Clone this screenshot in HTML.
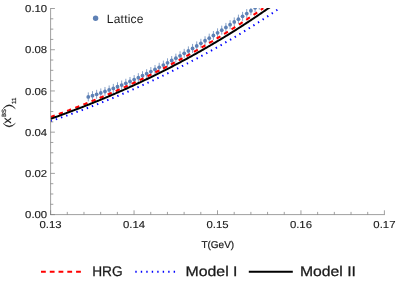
<!DOCTYPE html>
<html><head><meta charset="utf-8">
<style>
html,body{margin:0;padding:0;background:#fff;}
body{width:397px;height:290px;overflow:hidden;}
svg{display:block;will-change:transform;}
text{font-family:"Liberation Sans",sans-serif;fill:#1a1a1a;text-rendering:geometricPrecision;}
</style></head><body>
<svg width="397" height="290" viewBox="0 0 397 290">
<rect width="397" height="290" fill="#fff"/>
<defs><clipPath id="cp"><rect x="50.6" y="8.0" width="333.79999999999995" height="206.6"/></clipPath></defs>
<g clip-path="url(#cp)" fill="none">
  <g stroke="#5E81B5" stroke-width="1" opacity="0.75"><line x1="88.30" y1="92.38" x2="88.30" y2="101.38"/><line x1="92.47" y1="91.13" x2="92.47" y2="100.13"/><line x1="96.64" y1="89.82" x2="96.64" y2="98.82"/><line x1="100.81" y1="88.43" x2="100.81" y2="97.43"/><line x1="104.98" y1="86.98" x2="104.98" y2="95.98"/><line x1="109.15" y1="85.46" x2="109.15" y2="94.46"/><line x1="113.32" y1="83.88" x2="113.32" y2="92.88"/><line x1="117.49" y1="82.24" x2="117.49" y2="91.24"/><line x1="121.66" y1="80.54" x2="121.66" y2="89.54"/><line x1="125.83" y1="78.78" x2="125.83" y2="87.78"/><line x1="130.00" y1="76.97" x2="130.00" y2="85.97"/><line x1="134.17" y1="75.10" x2="134.17" y2="84.10"/><line x1="138.34" y1="73.17" x2="138.34" y2="82.17"/><line x1="142.51" y1="71.20" x2="142.51" y2="80.20"/><line x1="146.68" y1="69.17" x2="146.68" y2="78.17"/><line x1="150.85" y1="67.09" x2="150.85" y2="76.09"/><line x1="155.02" y1="64.97" x2="155.02" y2="73.97"/><line x1="159.19" y1="62.79" x2="159.19" y2="71.79"/><line x1="163.36" y1="60.58" x2="163.36" y2="69.58"/><line x1="167.53" y1="58.32" x2="167.53" y2="67.32"/><line x1="171.70" y1="56.01" x2="171.70" y2="65.01"/><line x1="175.87" y1="53.67" x2="175.87" y2="62.67"/><line x1="180.04" y1="51.29" x2="180.04" y2="60.29"/><line x1="184.21" y1="48.87" x2="184.21" y2="57.87"/><line x1="188.38" y1="46.41" x2="188.38" y2="55.41"/><line x1="192.55" y1="43.92" x2="192.55" y2="52.92"/><line x1="196.72" y1="41.40" x2="196.72" y2="50.40"/><line x1="200.89" y1="38.84" x2="200.89" y2="47.84"/><line x1="205.06" y1="36.26" x2="205.06" y2="45.26"/><line x1="209.23" y1="33.64" x2="209.23" y2="42.64"/><line x1="213.40" y1="31.00" x2="213.40" y2="40.00"/><line x1="217.57" y1="28.33" x2="217.57" y2="37.33"/><line x1="221.74" y1="25.64" x2="221.74" y2="34.64"/><line x1="225.91" y1="22.92" x2="225.91" y2="31.92"/><line x1="230.08" y1="20.19" x2="230.08" y2="29.19"/><line x1="234.25" y1="17.43" x2="234.25" y2="26.43"/><line x1="238.42" y1="14.65" x2="238.42" y2="23.65"/><line x1="242.59" y1="11.86" x2="242.59" y2="20.86"/><line x1="246.76" y1="9.06" x2="246.76" y2="18.06"/><line x1="250.93" y1="6.23" x2="250.93" y2="15.23"/><line x1="255.10" y1="3.40" x2="255.10" y2="12.40"/><line x1="259.27" y1="0.55" x2="259.27" y2="9.55"/><line x1="263.44" y1="-2.30" x2="263.44" y2="6.70"/></g>
  <g fill="#5E81B5" stroke="none"><circle cx="88.30" cy="96.88" r="1.9"/><circle cx="92.47" cy="95.63" r="1.9"/><circle cx="96.64" cy="94.32" r="1.9"/><circle cx="100.81" cy="92.93" r="1.9"/><circle cx="104.98" cy="91.48" r="1.9"/><circle cx="109.15" cy="89.96" r="1.9"/><circle cx="113.32" cy="88.38" r="1.9"/><circle cx="117.49" cy="86.74" r="1.9"/><circle cx="121.66" cy="85.04" r="1.9"/><circle cx="125.83" cy="83.28" r="1.9"/><circle cx="130.00" cy="81.47" r="1.9"/><circle cx="134.17" cy="79.60" r="1.9"/><circle cx="138.34" cy="77.67" r="1.9"/><circle cx="142.51" cy="75.70" r="1.9"/><circle cx="146.68" cy="73.67" r="1.9"/><circle cx="150.85" cy="71.59" r="1.9"/><circle cx="155.02" cy="69.47" r="1.9"/><circle cx="159.19" cy="67.29" r="1.9"/><circle cx="163.36" cy="65.08" r="1.9"/><circle cx="167.53" cy="62.82" r="1.9"/><circle cx="171.70" cy="60.51" r="1.9"/><circle cx="175.87" cy="58.17" r="1.9"/><circle cx="180.04" cy="55.79" r="1.9"/><circle cx="184.21" cy="53.37" r="1.9"/><circle cx="188.38" cy="50.91" r="1.9"/><circle cx="192.55" cy="48.42" r="1.9"/><circle cx="196.72" cy="45.90" r="1.9"/><circle cx="200.89" cy="43.34" r="1.9"/><circle cx="205.06" cy="40.76" r="1.9"/><circle cx="209.23" cy="38.14" r="1.9"/><circle cx="213.40" cy="35.50" r="1.9"/><circle cx="217.57" cy="32.83" r="1.9"/><circle cx="221.74" cy="30.14" r="1.9"/><circle cx="225.91" cy="27.42" r="1.9"/><circle cx="230.08" cy="24.69" r="1.9"/><circle cx="234.25" cy="21.93" r="1.9"/><circle cx="238.42" cy="19.15" r="1.9"/><circle cx="242.59" cy="16.36" r="1.9"/><circle cx="246.76" cy="13.56" r="1.9"/><circle cx="250.93" cy="10.73" r="1.9"/><circle cx="255.10" cy="7.90" r="1.9"/><circle cx="259.27" cy="5.05" r="1.9"/><circle cx="263.44" cy="2.20" r="1.9"/></g>
  <path d="M50.60,116.98 L51.60,116.63 L52.60,116.27 L53.60,115.91 L54.60,115.55 L55.60,115.18 L56.60,114.82 L57.60,114.46 L58.60,114.09 L59.60,113.72 L60.60,113.35 L61.60,112.98 L62.60,112.61 L63.60,112.24 L64.60,111.87 L65.60,111.49 L66.60,111.12 L67.60,110.74 L68.60,110.36 L69.60,109.98 L70.60,109.60 L71.60,109.22 L72.60,108.84 L73.60,108.45 L74.60,108.07 L75.60,107.68 L76.60,107.29 L77.60,106.90 L78.60,106.51 L79.60,106.12 L80.60,105.73 L81.60,105.33 L82.60,104.94 L83.60,104.54 L84.60,104.14 L85.60,103.74 L86.60,103.34 L87.60,102.94 L88.60,102.54 L89.60,102.13 L90.60,101.72 L91.60,101.32 L92.60,100.91 L93.60,100.50 L94.60,100.09 L95.60,99.67 L96.60,99.26 L97.60,98.84 L98.60,98.43 L99.60,98.01 L100.60,97.59 L101.60,97.17 L102.60,96.74 L103.60,96.32 L104.60,95.89 L105.60,95.47 L106.60,95.04 L107.60,94.61 L108.60,94.18 L109.60,93.75 L110.60,93.31 L111.60,92.88 L112.60,92.44 L113.60,92.01 L114.60,91.57 L115.60,91.13 L116.60,90.68 L117.60,90.24 L118.60,89.80 L119.60,89.35 L120.60,88.90 L121.60,88.45 L122.60,88.00 L123.60,87.55 L124.60,87.10 L125.60,86.64 L126.60,86.19 L127.60,85.73 L128.60,85.27 L129.60,84.81 L130.60,84.35 L131.60,83.88 L132.60,83.42 L133.60,82.95 L134.60,82.48 L135.60,82.01 L136.60,81.54 L137.60,81.07 L138.60,80.60 L139.60,80.12 L140.60,79.64 L141.60,79.16 L142.60,78.68 L143.60,78.20 L144.60,77.72 L145.60,77.23 L146.60,76.75 L147.60,76.26 L148.60,75.77 L149.60,75.28 L150.60,74.79 L151.60,74.29 L152.60,73.80 L153.60,73.30 L154.60,72.80 L155.60,72.30 L156.60,71.80 L157.60,71.30 L158.60,70.79 L159.60,70.28 L160.60,69.77 L161.60,69.26 L162.60,68.75 L163.60,68.24 L164.60,67.73 L165.60,67.21 L166.60,66.69 L167.60,66.17 L168.60,65.65 L169.60,65.13 L170.60,64.60 L171.60,64.08 L172.60,63.55 L173.60,63.02 L174.60,62.49 L175.60,61.95 L176.60,61.42 L177.60,60.88 L178.60,60.35 L179.60,59.81 L180.60,59.27 L181.60,58.72 L182.60,58.18 L183.60,57.63 L184.60,57.08 L185.60,56.53 L186.60,55.98 L187.60,55.43 L188.60,54.87 L189.60,54.32 L190.60,53.76 L191.60,53.20 L192.60,52.64 L193.60,52.07 L194.60,51.51 L195.60,50.94 L196.60,50.37 L197.60,49.80 L198.60,49.23 L199.60,48.65 L200.60,48.08 L201.60,47.50 L202.60,46.92 L203.60,46.34 L204.60,45.76 L205.60,45.17 L206.60,44.58 L207.60,44.00 L208.60,43.41 L209.60,42.81 L210.60,42.22 L211.60,41.62 L212.60,41.03 L213.60,40.43 L214.60,39.82 L215.60,39.22 L216.60,38.62 L217.60,38.01 L218.60,37.40 L219.60,36.79 L220.60,36.18 L221.60,35.56 L222.60,34.95 L223.60,34.33 L224.60,33.71 L225.60,33.09 L226.60,32.46 L227.60,31.84 L228.60,31.21 L229.60,30.58 L230.60,29.95 L231.60,29.31 L232.60,28.68 L233.60,28.04 L234.60,27.40 L235.60,26.76 L236.60,26.12 L237.60,25.47 L238.60,24.82 L239.60,24.17 L240.60,23.52 L241.60,22.87 L242.60,22.22 L243.60,21.56 L244.60,20.90 L245.60,20.24 L246.60,19.57 L247.60,18.91 L248.60,18.24 L249.60,17.57 L250.60,16.90 L251.60,16.23 L252.60,15.55 L253.60,14.88 L254.60,14.20 L255.60,13.52 L256.60,12.83 L257.60,12.15 L258.60,11.46 L259.60,10.77 L260.60,10.08 L261.60,9.38 L262.60,8.69 L263.30,8.20" stroke="#ff0000" stroke-width="2.1" stroke-dasharray="4.4 4.36"/>
  <path d="M50.60,121.15 L51.60,120.82 L52.60,120.48 L53.60,120.14 L54.60,119.80 L55.60,119.46 L56.60,119.12 L57.60,118.77 L58.60,118.43 L59.60,118.09 L60.60,117.74 L61.60,117.39 L62.60,117.04 L63.60,116.69 L64.60,116.34 L65.60,115.99 L66.60,115.64 L67.60,115.28 L68.60,114.93 L69.60,114.57 L70.60,114.21 L71.60,113.86 L72.60,113.50 L73.60,113.13 L74.60,112.77 L75.60,112.41 L76.60,112.04 L77.60,111.68 L78.60,111.31 L79.60,110.94 L80.60,110.57 L81.60,110.20 L82.60,109.83 L83.60,109.46 L84.60,109.08 L85.60,108.71 L86.60,108.33 L87.60,107.95 L88.60,107.57 L89.60,107.19 L90.60,106.81 L91.60,106.43 L92.60,106.04 L93.60,105.66 L94.60,105.27 L95.60,104.88 L96.60,104.49 L97.60,104.10 L98.60,103.71 L99.60,103.32 L100.60,102.92 L101.60,102.53 L102.60,102.13 L103.60,101.73 L104.60,101.33 L105.60,100.93 L106.60,100.53 L107.60,100.13 L108.60,99.72 L109.60,99.32 L110.60,98.91 L111.60,98.50 L112.60,98.09 L113.60,97.68 L114.60,97.27 L115.60,96.85 L116.60,96.44 L117.60,96.02 L118.60,95.60 L119.60,95.18 L120.60,94.76 L121.60,94.34 L122.60,93.92 L123.60,93.49 L124.60,93.06 L125.60,92.64 L126.60,92.21 L127.60,91.78 L128.60,91.34 L129.60,90.91 L130.60,90.47 L131.60,90.04 L132.60,89.60 L133.60,89.16 L134.60,88.72 L135.60,88.28 L136.60,87.84 L137.60,87.39 L138.60,86.94 L139.60,86.50 L140.60,86.05 L141.60,85.60 L142.60,85.15 L143.60,84.69 L144.60,84.24 L145.60,83.78 L146.60,83.32 L147.60,82.86 L148.60,82.40 L149.60,81.94 L150.60,81.48 L151.60,81.01 L152.60,80.55 L153.60,80.08 L154.60,79.61 L155.60,79.14 L156.60,78.66 L157.60,78.19 L158.60,77.71 L159.60,77.24 L160.60,76.76 L161.60,76.28 L162.60,75.80 L163.60,75.31 L164.60,74.83 L165.60,74.34 L166.60,73.85 L167.60,73.37 L168.60,72.87 L169.60,72.38 L170.60,71.89 L171.60,71.39 L172.60,70.89 L173.60,70.40 L174.60,69.90 L175.60,69.39 L176.60,68.89 L177.60,68.38 L178.60,67.88 L179.60,67.37 L180.60,66.86 L181.60,66.36 L182.60,65.85 L183.60,65.34 L184.60,64.83 L185.60,64.32 L186.60,63.81 L187.60,63.29 L188.60,62.78 L189.60,62.26 L190.60,61.74 L191.60,61.22 L192.60,60.69 L193.60,60.17 L194.60,59.64 L195.60,59.12 L196.60,58.59 L197.60,58.05 L198.60,57.52 L199.60,56.99 L200.60,56.45 L201.60,55.91 L202.60,55.37 L203.60,54.83 L204.60,54.29 L205.60,53.74 L206.60,53.19 L207.60,52.64 L208.60,52.09 L209.60,51.54 L210.60,50.99 L211.60,50.43 L212.60,49.87 L213.60,49.32 L214.60,48.75 L215.60,48.19 L216.60,47.63 L217.60,47.06 L218.60,46.49 L219.60,45.92 L220.60,45.35 L221.60,44.78 L222.60,44.20 L223.60,43.62 L224.60,43.05 L225.60,42.46 L226.60,41.88 L227.60,41.30 L228.60,40.71 L229.60,40.12 L230.60,39.53 L231.60,38.94 L232.60,38.35 L233.60,37.75 L234.60,37.15 L235.60,36.55 L236.60,35.95 L237.60,35.35 L238.60,34.74 L239.60,34.14 L240.60,33.53 L241.60,32.92 L242.60,32.30 L243.60,31.69 L244.60,31.07 L245.60,30.45 L246.60,29.83 L247.60,29.21 L248.60,28.58 L249.60,27.96 L250.60,27.33 L251.60,26.70 L252.60,26.07 L253.60,25.43 L254.60,24.80 L255.60,24.16 L256.60,23.52 L257.60,22.87 L258.60,22.23 L259.60,21.58 L260.60,20.94 L261.60,20.28 L262.60,19.63 L263.60,18.98 L264.60,18.32 L265.60,17.66 L266.60,17.00 L267.60,16.34 L268.60,15.67 L269.60,15.01 L270.60,14.34 L271.60,13.67 L272.60,12.99 L273.60,12.32 L274.60,11.64 L275.60,10.96 L276.60,10.28 L277.60,9.60 L278.60,8.91 L279.50,8.29" stroke="#0000ff" stroke-width="2" stroke-dasharray="1.4 4.08"/>
  <path d="M50.60,118.81 L51.60,118.46 L52.60,118.11 L53.60,117.75 L54.60,117.40 L55.60,117.04 L56.60,116.69 L57.60,116.33 L58.60,115.97 L59.60,115.61 L60.60,115.24 L61.60,114.88 L62.60,114.52 L63.60,114.15 L64.60,113.78 L65.60,113.41 L66.60,113.05 L67.60,112.67 L68.60,112.30 L69.60,111.93 L70.60,111.56 L71.60,111.18 L72.60,110.80 L73.60,110.42 L74.60,110.05 L75.60,109.67 L76.60,109.28 L77.60,108.90 L78.60,108.52 L79.60,108.13 L80.60,107.74 L81.60,107.36 L82.60,106.97 L83.60,106.58 L84.60,106.18 L85.60,105.79 L86.60,105.40 L87.60,105.00 L88.60,104.60 L89.60,104.20 L90.60,103.80 L91.60,103.40 L92.60,103.00 L93.60,102.60 L94.60,102.19 L95.60,101.79 L96.60,101.38 L97.60,100.97 L98.60,100.56 L99.60,100.15 L100.60,99.74 L101.60,99.32 L102.60,98.91 L103.60,98.49 L104.60,98.07 L105.60,97.65 L106.60,97.23 L107.60,96.81 L108.60,96.38 L109.60,95.96 L110.60,95.53 L111.60,95.11 L112.60,94.68 L113.60,94.25 L114.60,93.81 L115.60,93.38 L116.60,92.95 L117.60,92.51 L118.60,92.07 L119.60,91.63 L120.60,91.19 L121.60,90.75 L122.60,90.31 L123.60,89.86 L124.60,89.42 L125.60,88.97 L126.60,88.52 L127.60,88.07 L128.60,87.62 L129.60,87.16 L130.60,86.71 L131.60,86.25 L132.60,85.80 L133.60,85.34 L134.60,84.88 L135.60,84.41 L136.60,83.95 L137.60,83.48 L138.60,83.02 L139.60,82.55 L140.60,82.08 L141.60,81.61 L142.60,81.14 L143.60,80.66 L144.60,80.19 L145.60,79.71 L146.60,79.23 L147.60,78.75 L148.60,78.27 L149.60,77.79 L150.60,77.30 L151.60,76.82 L152.60,76.33 L153.60,75.84 L154.60,75.35 L155.60,74.86 L156.60,74.36 L157.60,73.87 L158.60,73.37 L159.60,72.87 L160.60,72.37 L161.60,71.87 L162.60,71.37 L163.60,70.86 L164.60,70.35 L165.60,69.85 L166.60,69.34 L167.60,68.82 L168.60,68.31 L169.60,67.80 L170.60,67.28 L171.60,66.76 L172.60,66.24 L173.60,65.72 L174.60,65.20 L175.60,64.67 L176.60,64.15 L177.60,63.62 L178.60,63.09 L179.60,62.56 L180.60,62.03 L181.60,61.49 L182.60,60.96 L183.60,60.42 L184.60,59.88 L185.60,59.34 L186.60,58.80 L187.60,58.25 L188.60,57.70 L189.60,57.16 L190.60,56.61 L191.60,56.06 L192.60,55.50 L193.60,54.95 L194.60,54.39 L195.60,53.83 L196.60,53.27 L197.60,52.71 L198.60,52.15 L199.60,51.58 L200.60,51.02 L201.60,50.45 L202.60,49.88 L203.60,49.30 L204.60,48.73 L205.60,48.15 L206.60,47.58 L207.60,47.00 L208.60,46.42 L209.60,45.83 L210.60,45.25 L211.60,44.66 L212.60,44.07 L213.60,43.48 L214.60,42.89 L215.60,42.30 L216.60,41.70 L217.60,41.10 L218.60,40.51 L219.60,39.90 L220.60,39.30 L221.60,38.70 L222.60,38.09 L223.60,37.48 L224.60,36.87 L225.60,36.26 L226.60,35.64 L227.60,35.03 L228.60,34.41 L229.60,33.79 L230.60,33.17 L231.60,32.54 L232.60,31.92 L233.60,31.29 L234.60,30.66 L235.60,30.03 L236.60,29.40 L237.60,28.76 L238.60,28.12 L239.60,27.48 L240.60,26.84 L241.60,26.20 L242.60,25.56 L243.60,24.91 L244.60,24.26 L245.60,23.61 L246.60,22.96 L247.60,22.30 L248.60,21.64 L249.60,20.99 L250.60,20.32 L251.60,19.66 L252.60,19.00 L253.60,18.33 L254.60,17.66 L255.60,16.99 L256.60,16.32 L257.60,15.64 L258.60,14.96 L259.60,14.29 L260.60,13.60 L261.60,12.92 L262.60,12.24 L263.60,11.55 L264.60,10.86 L265.60,10.17 L266.60,9.47 L267.60,8.78 L268.60,8.08 L269.60,7.38 L270.60,6.68 L271.60,5.98 L272.60,5.27 L273.60,4.56 L274.60,3.85 L275.60,3.14 L276.60,2.42 L277.60,1.71 L278.60,0.99 L279.60,0.27 L280.60,-0.46 L281.60,-1.18 L282.60,-1.91 L283.60,-2.64 L284.60,-3.37 L285.60,-4.11 L286.60,-4.84 L287.60,-5.58 L288.60,-6.32 L289.60,-7.06 L290.60,-7.81 L291.60,-8.56 L292.60,-9.31 L293.60,-10.06 L294.60,-10.81 L295.60,-11.57 L296.60,-12.33 L297.60,-13.09 L298.60,-13.85 L299.60,-14.62 L300.00,-14.92" stroke="#000" stroke-width="2"/>
</g>
<g stroke="#808080" stroke-width="0.75" fill="none">
  <line x1="50.6" y1="8.1" x2="50.6" y2="215.0"/>
  <line x1="50.2" y1="214.6" x2="384.79999999999995" y2="214.6"/>
  <line x1="50.60" y1="214.60" x2="54.90" y2="214.60"/><line x1="50.60" y1="204.29" x2="53.30" y2="204.29"/><line x1="50.60" y1="193.99" x2="53.30" y2="193.99"/><line x1="50.60" y1="183.69" x2="53.30" y2="183.69"/><line x1="50.60" y1="173.38" x2="54.90" y2="173.38"/><line x1="50.60" y1="163.07" x2="53.30" y2="163.07"/><line x1="50.60" y1="152.77" x2="53.30" y2="152.77"/><line x1="50.60" y1="142.46" x2="53.30" y2="142.46"/><line x1="50.60" y1="132.16" x2="54.90" y2="132.16"/><line x1="50.60" y1="121.86" x2="53.30" y2="121.86"/><line x1="50.60" y1="111.55" x2="53.30" y2="111.55"/><line x1="50.60" y1="101.25" x2="53.30" y2="101.25"/><line x1="50.60" y1="90.94" x2="54.90" y2="90.94"/><line x1="50.60" y1="80.63" x2="53.30" y2="80.63"/><line x1="50.60" y1="70.33" x2="53.30" y2="70.33"/><line x1="50.60" y1="60.03" x2="53.30" y2="60.03"/><line x1="50.60" y1="49.72" x2="54.90" y2="49.72"/><line x1="50.60" y1="39.41" x2="53.30" y2="39.41"/><line x1="50.60" y1="29.11" x2="53.30" y2="29.11"/><line x1="50.60" y1="18.81" x2="53.30" y2="18.81"/><line x1="50.60" y1="8.50" x2="54.90" y2="8.50"/><line x1="50.60" y1="214.60" x2="50.60" y2="210.30"/><line x1="67.29" y1="214.60" x2="67.29" y2="211.90"/><line x1="83.98" y1="214.60" x2="83.98" y2="211.90"/><line x1="100.67" y1="214.60" x2="100.67" y2="211.90"/><line x1="117.36" y1="214.60" x2="117.36" y2="211.90"/><line x1="134.05" y1="214.60" x2="134.05" y2="210.30"/><line x1="150.74" y1="214.60" x2="150.74" y2="211.90"/><line x1="167.43" y1="214.60" x2="167.43" y2="211.90"/><line x1="184.12" y1="214.60" x2="184.12" y2="211.90"/><line x1="200.81" y1="214.60" x2="200.81" y2="211.90"/><line x1="217.50" y1="214.60" x2="217.50" y2="210.30"/><line x1="234.19" y1="214.60" x2="234.19" y2="211.90"/><line x1="250.88" y1="214.60" x2="250.88" y2="211.90"/><line x1="267.57" y1="214.60" x2="267.57" y2="211.90"/><line x1="284.26" y1="214.60" x2="284.26" y2="211.90"/><line x1="300.95" y1="214.60" x2="300.95" y2="210.30"/><line x1="317.64" y1="214.60" x2="317.64" y2="211.90"/><line x1="334.33" y1="214.60" x2="334.33" y2="211.90"/><line x1="351.02" y1="214.60" x2="351.02" y2="211.90"/><line x1="367.71" y1="214.60" x2="367.71" y2="211.90"/><line x1="384.40" y1="214.60" x2="384.40" y2="210.30"/>
</g>
<g font-size="10.1" stroke="#1a1a1a" stroke-width="0.12"><text transform="translate(47.2,218.30) scale(1.125,1)" text-anchor="end">0.00</text><text transform="translate(47.2,177.08) scale(1.125,1)" text-anchor="end">0.02</text><text transform="translate(47.2,135.86) scale(1.125,1)" text-anchor="end">0.04</text><text transform="translate(47.2,94.64) scale(1.125,1)" text-anchor="end">0.06</text><text transform="translate(47.2,53.42) scale(1.125,1)" text-anchor="end">0.08</text><text transform="translate(47.2,12.20) scale(1.125,1)" text-anchor="end">0.10</text><text transform="translate(50.60,227.5) scale(1.125,1)" text-anchor="middle">0.13</text><text transform="translate(134.05,227.5) scale(1.125,1)" text-anchor="middle">0.14</text><text transform="translate(217.50,227.5) scale(1.125,1)" text-anchor="middle">0.15</text><text transform="translate(300.95,227.5) scale(1.125,1)" text-anchor="middle">0.16</text><text transform="translate(384.40,227.5) scale(1.125,1)" text-anchor="middle">0.17</text></g>
<text x="217.8" y="247.8" font-size="10" text-anchor="middle" stroke="#1a1a1a" stroke-width="0.2">T(GeV)</text>
<!-- lattice legend -->
<circle cx="95.6" cy="18.3" r="2.7" fill="#5E81B5"/>
<text x="106.8" y="22.8" font-size="12" letter-spacing="0.22">Lattice</text>
<!-- y label -->
<g stroke="#1a1a1a" stroke-width="0.2">
 <path d="M3,123.3 Q9.2,130.6 15.4,123.3 Q9.2,128.9 3,123.3 Z" fill="#1a1a1a" stroke-width="0.4"/>
 <path d="M3,108.7 Q9.2,101.0 15.4,108.7 Q9.2,102.7 3,108.7 Z" fill="#1a1a1a" stroke-width="0.4"/>
 <text transform="translate(11.3,123.6) rotate(-90)" font-size="11.8">x</text>
 <text transform="translate(5.8,117.0) rotate(-90)" font-size="6">BS</text>
 <text transform="translate(15.7,104.0) rotate(-90)" font-size="6">11</text>
</g>
<!-- bottom legend -->
<line x1="41" y1="271.8" x2="84.5" y2="271.8" stroke="#ff0000" stroke-width="2.1" stroke-dasharray="4.8 3.97"/>
<line x1="135.3" y1="271.8" x2="176" y2="271.8" stroke="#0000ff" stroke-width="2" stroke-dasharray="1.4 4.08"/>
<line x1="248.8" y1="271.8" x2="292.8" y2="271.8" stroke="#000" stroke-width="2"/>
<g font-size="14" fill="#111" stroke="#111" stroke-width="0.25">
<text x="92.2" y="275.6" textLength="30.4" lengthAdjust="spacingAndGlyphs">HRG</text>
<text x="185.5" y="275.6" textLength="52" lengthAdjust="spacingAndGlyphs">Model I</text>
<text x="300" y="275.6" textLength="56" lengthAdjust="spacingAndGlyphs">Model II</text>
</g>
</svg>
</body></html>
